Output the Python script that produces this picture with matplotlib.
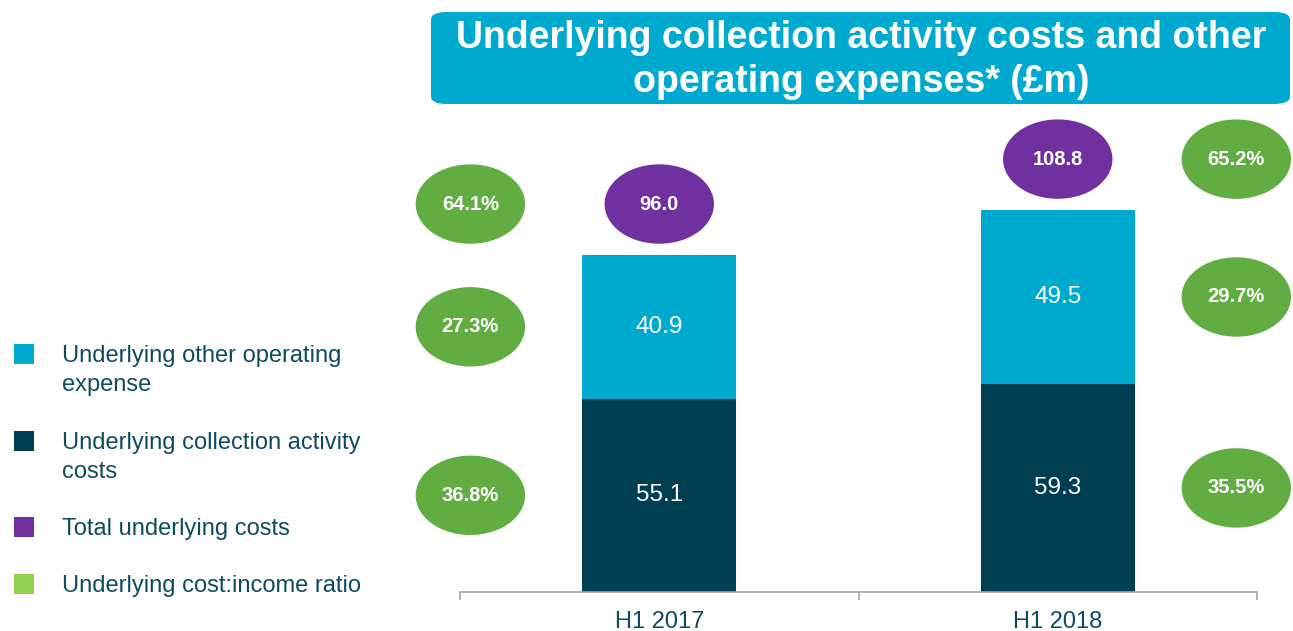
import matplotlib
matplotlib.use("Agg")
import matplotlib.pyplot as plt
from matplotlib.patches import Ellipse, FancyBboxPatch, Rectangle

plt.rcParams['font.family'] = ['Liberation Sans', 'DejaVu Sans']

# data
periods = ['H1 2017', 'H1 2018']
collection_costs = [55.1, 59.3]
other_expenses = [40.9, 49.5]
total_costs = [96.0, 108.8]
ratio_total = ['64.1%', '65.2%']
ratio_other = ['27.3%', '29.7%']
ratio_collection = ['36.8%', '35.5%']

legend_labels = ['Underlying other operating\nexpense',
                 'Underlying collection activity\ncosts',
                 'Total underlying costs',
                 'Underlying cost:income ratio']

C_LIGHT = '#00AACE'
C_DARK = '#003F52'
C_PURPLE = '#7030A0'
C_GREEN = '#62AD41'
C_GREEN_LEG = '#92D050'
C_TEXT = '#0E4B5F'

W, H = 1293, 631
fig = plt.figure(figsize=(W / 100, H / 100), dpi=100)

# axes placed to match pixel layout
ax_l, ax_r, ax_b, ax_t = 460, 1257, 592, 110
ax = fig.add_axes([ax_l / W, (H - ax_b) / H, (ax_r - ax_l) / W, (ax_b - ax_t) / H])
px_per_unit = 3.51
ax.set_xlim(-0.5, 1.5)
ax.set_ylim(0, (ax_b - ax_t) / px_per_unit)

x = [0, 1]
bw = 0.387
ax.bar(x, collection_costs, bw, color=C_DARK, zorder=2)
ax.bar(x, other_expenses, bw, bottom=collection_costs, color=C_LIGHT, zorder=2)

for i in range(len(x)):
    ax.text(x[i], collection_costs[i] / 2, f'{collection_costs[i]:.1f}',
            ha='center', va='center', color='white', fontsize=17.5)
    ax.text(x[i], collection_costs[i] + other_expenses[i] / 2, f'{other_expenses[i]:.1f}',
            ha='center', va='center', color='white', fontsize=17.5)

# ellipse annotations
ew = 108 / 398.5
eh = 78 / px_per_unit
gap = 51 / px_per_unit
side_x = [-0.474, 1.448]


def bubble(cx, cy, text, color):
    e = Ellipse((cx, cy), ew, eh, color=color, clip_on=False, zorder=3)
    ax.add_patch(e)
    ax.text(cx, cy, text, ha='center', va='center', color='white',
            fontsize=14.5, fontweight='bold', zorder=4, clip_on=False)


for i in range(len(x)):
    top_y = total_costs[i] + gap
    bubble(x[i], top_y, f'{total_costs[i]:.1f}', C_PURPLE)
    bubble(side_x[i], top_y, ratio_total[i], C_GREEN)
    bubble(side_x[i], collection_costs[i] + other_expenses[i] / 2, ratio_other[i], C_GREEN)
    bubble(side_x[i], collection_costs[i] / 2, ratio_collection[i], C_GREEN)

# axis styling
for s in ['top', 'right', 'left']:
    ax.spines[s].set_visible(False)
ax.spines['bottom'].set_color('#A6A6A6')
ax.spines['bottom'].set_linewidth(1.2)
ax.set_yticks([])
ax.set_xticks(x)
ax.set_xticklabels(periods, fontsize=17, color=C_TEXT)
ax.tick_params(axis='x', which='major', length=0, pad=14)
ax.set_xticks([-0.5, 0.5, 1.5], minor=True)
ax.tick_params(axis='x', which='minor', length=6, color='#A6A6A6', width=1.2, direction='out')

# title box
box = FancyBboxPatch((431 / W, (H - 104) / H), 859 / W, 92 / H,
                     boxstyle='round,pad=0,rounding_size=0.012',
                     transform=fig.transFigure, facecolor=C_LIGHT, edgecolor='none')
fig.patches.append(box)
fig.text(861 / W, (H - 60) / H,
         'Underlying collection activity costs and other\noperating expenses* (£m)',
         ha='center', va='center', color='white', fontsize=27, fontweight='bold',
         linespacing=1.32)

# legend
leg_colors = [C_LIGHT, C_DARK, C_PURPLE, C_GREEN_LEG]
leg_y = [354, 441, 527, 584]
for col, lab, yy in zip(leg_colors, legend_labels, leg_y):
    fig.patches.append(Rectangle((14 / W, (H - yy - 10) / H), 20 / W, 20 / H,
                                 transform=fig.transFigure, facecolor=col, edgecolor='none'))
    fig.text(62 / W, (H - yy + 9) / H, lab, ha='left', va='top', color=C_TEXT,
             fontsize=17, linespacing=1.42)

fig.savefig('out.png', dpi=100)
